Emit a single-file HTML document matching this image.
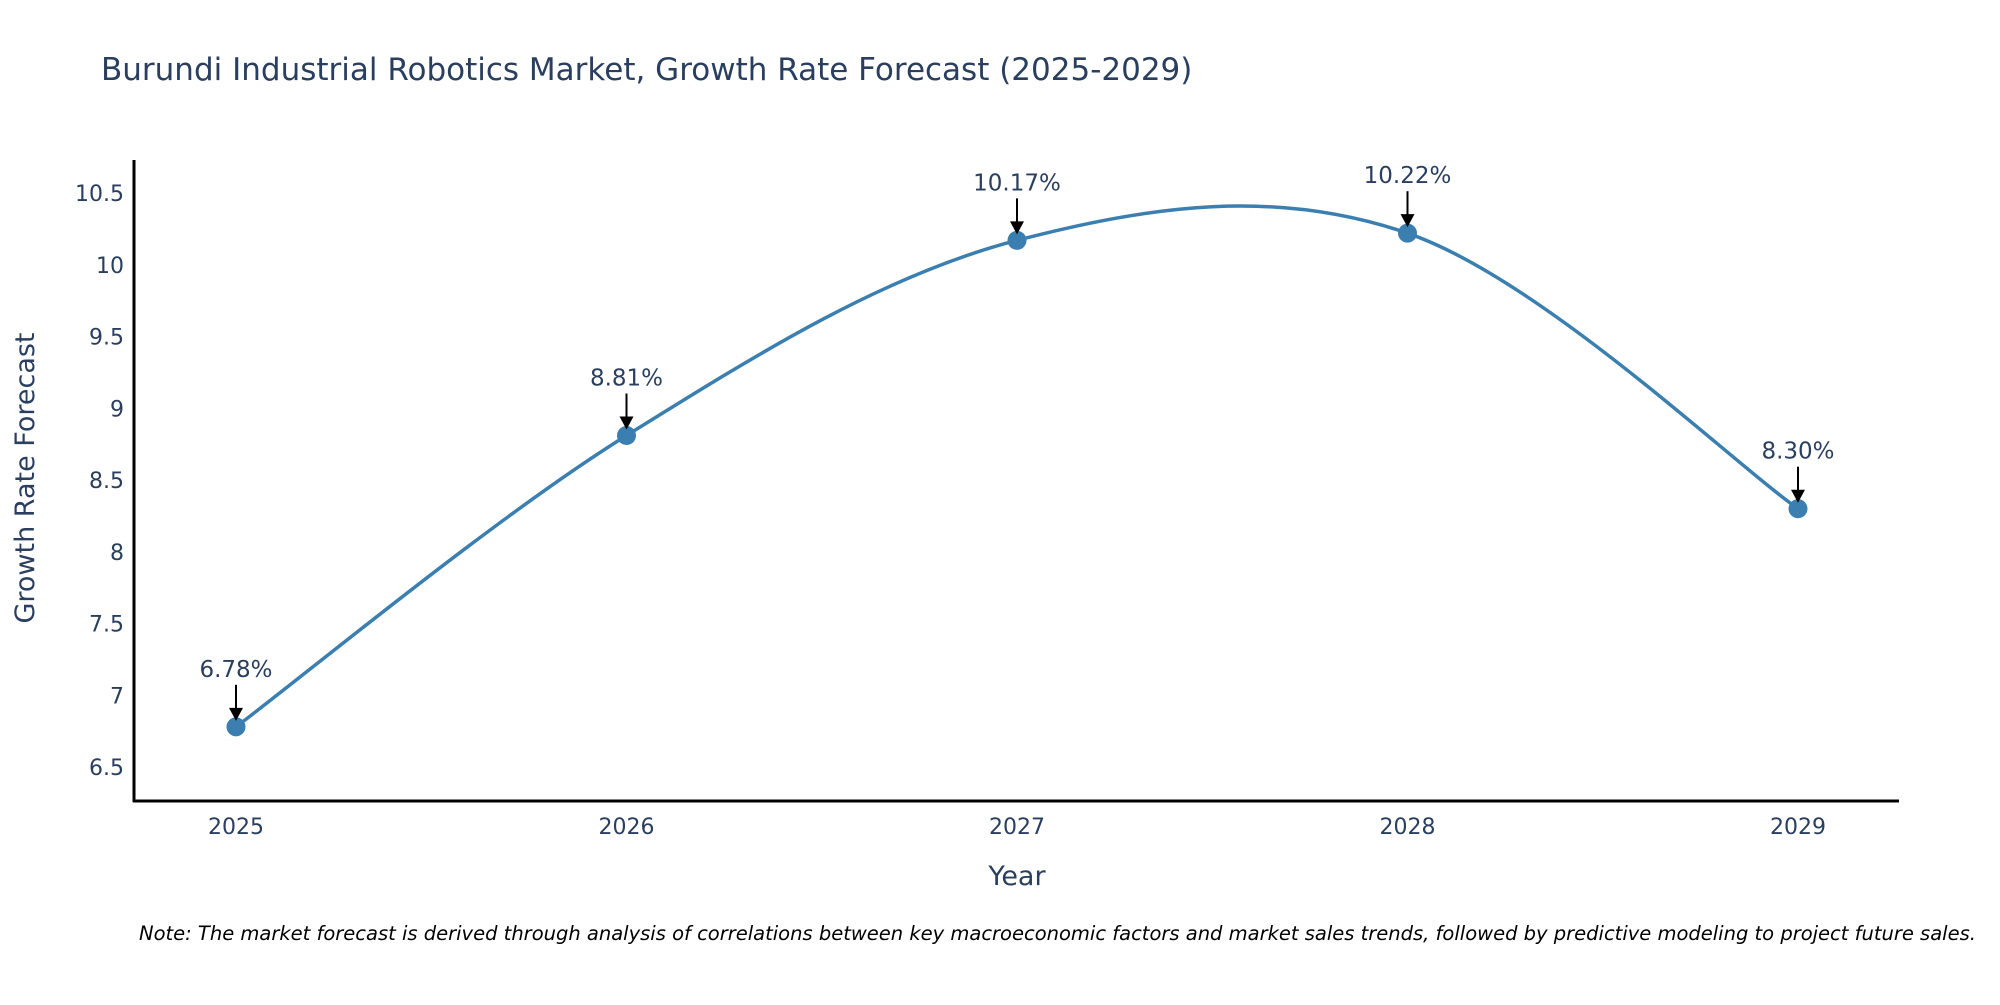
<!DOCTYPE html>
<html><head><meta charset="utf-8"><style>
body{margin:0;background:#fff;}
svg text{font-family:"DejaVu Sans","Liberation Sans",sans-serif;fill:#2a3f5f;}
</style></head><body>
<svg id="chart" width="2000" height="1000" viewBox="0 0 2000 1000">
<text x="101" y="80" font-size="31">Burundi Industrial Robotics Market, Growth Rate Forecast (2025-2029)</text>
<g id="yticks"></g>
<g id="xticks"></g>
<line x1="134" y1="160" x2="134" y2="802" stroke="#000" stroke-width="3"/>
<line x1="133" y1="801" x2="1899" y2="801" stroke="#000" stroke-width="3"/>
<path id="line" fill="none" stroke="#3a7fb0" stroke-width="3.5"/>
<g id="points"></g>
<text transform="translate(34,478) rotate(-90)" text-anchor="middle" font-size="27">Growth Rate Forecast</text>
<text x="1017" y="885" text-anchor="middle" font-size="27">Year</text>
<text x="139" y="940" font-size="19.5" font-style="italic" style="fill:#000">Note: The market forecast is derived through analysis of correlations between key macroeconomic factors and market sales trends, followed by predictive modeling to project future sales.</text>
</svg>
<script>
const years=[2025,2026,2027,2028,2029];
const values=[6.78,8.81,10.17,10.22,8.30];
const labels=["6.78%","8.81%","10.17%","10.22%","8.30%"];
const yTicks=[6.5,7,7.5,8,8.5,9,9.5,10,10.5];
const yTickLabels=["6.5","7","7.5","8","8.5","9","9.5","10","10.5"];
const NS="http://www.w3.org/2000/svg";
function xs(y){return 236+(y-2025)*390.5;}
function ys(v){return 767-(v-6.5)*143.5;}
function mk(tag,attrs,parent){const e=document.createElementNS(NS,tag);for(const k in attrs)e.setAttribute(k,attrs[k]);parent.appendChild(e);return e;}
const yt=document.getElementById('yticks');
yTicks.forEach((v,i)=>{const t=mk('text',{x:124,y:ys(v)+8,'text-anchor':'end','font-size':'22'},yt);


t.textContent=yTickLabels[i];});
const xt=document.getElementById('xticks');
years.forEach(y=>{const t=mk('text',{x:xs(y),y:834,'text-anchor':'middle','font-size':'22'},xt);


t.textContent=String(y);});
const P=years.map((y,i)=>[xs(y),ys(values[i])]);
const k=0.17;
let d='M'+P[0][0]+','+P[0][1];
for(let i=0;i<P.length-1;i++){
 const p0=P[Math.max(0,i-1)],p1=P[i],p2=P[i+1],p3=P[Math.min(P.length-1,i+2)];
 const c1=[p1[0]+(p2[0]-p0[0])*k,p1[1]+(p2[1]-p0[1])*k];
 const c2=[p2[0]-(p3[0]-p1[0])*k,p2[1]-(p3[1]-p1[1])*k];
 d+=' C'+c1+' '+c2+' '+p2;
}
document.getElementById('line').setAttribute('d',d);
const pg=document.getElementById('points');
P.forEach((p,i)=>{
 const c=mk('circle',{cx:p[0],cy:p[1],r:9.5,fill:'#3a7fb0'},pg);
 
 
 const l=mk('line',{x1:p[0],y1:p[1]-42,x2:p[0],y2:p[1]-18,stroke:'#000','stroke-width':2},pg);
 
 
 const a=mk('polygon',{points:(p[0]-7)+','+(p[1]-19)+' '+(p[0]+7)+','+(p[1]-19)+' '+p[0]+','+(p[1]-6),fill:'#000'},pg);
 
 
 const t=mk('text',{x:p[0],y:p[1]-50,'text-anchor':'middle','font-size':'23'},pg);
 
 
 t.textContent=labels[i];
});
</script>
</body></html>
